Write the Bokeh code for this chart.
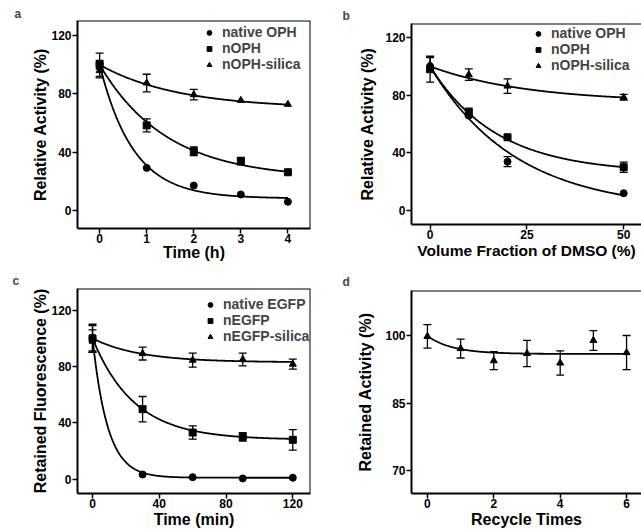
import numpy as np
from bokeh.plotting import figure
from bokeh.models import (ColumnDataSource, Whisker, TeeHead, FixedTicker, Span,
                          Range1d)
from bokeh.layouts import column, row
from bokeh.embed import file_html
from bokeh.resources import INLINE

FONT = "Liberation Sans"

# ---------------- data ----------------
# panel a: thermal stability (time, h)
a_time = [0, 1, 2, 3, 4]
a_native = [100, 29.4, 17.3, 11.2, 6.2]
a_native_err = [3, 0, 0, 0, 0]
a_noph = [100, 58.5, 40.8, 34.0, 26.4]
a_noph_err = [8, 4.5, 3.0, 2.5, 0]
a_silica = [96, 87.5, 79.5, 75.6, 72.9]
a_silica_err = [5, 6, 3.6, 0, 0]
a_fit_native = (100, 8.5, 1.4)      # (y0, plateau, k)
a_fit_noph = (100, 22, 0.7)
a_fit_silica = (100, 70, 0.6)
a_labels = ["native OPH", "nOPH", "nOPH-silica"]

# panel b: DMSO tolerance
b_dmso = [0, 10, 20, 50]
b_native = [100, 65.8, 33.9, 12.0]
b_native_err = [0, 0, 3.5, 0]
b_noph = [98, 68.0, 50.8, 30.0]
b_noph_err = [9, 3, 0, 3.5]
b_silica = [101, 94.2, 86.3, 78.5]
b_silica_err = [5, 4, 5, 2]
b_fit_native = (100, 0, 0.045)
b_fit_noph = (100, 26, 0.058)
b_fit_silica = (100, 75, 0.04)

# panel c: EGFP fluorescence (time, min)
c_time = [0, 30, 60, 90, 120]
c_native = [100, 3.3, 1.4, 0.5, 1.0]
c_native_err = [9, 0, 0, 0, 0]
c_negfp = [100, 49.7, 33.1, 30.0, 27.9]
c_negfp_err = [10, 9, 4.7, 3, 7.3]
c_silica = [98, 89.2, 84.5, 85.0, 81.7]
c_silica_err = [8, 4.6, 5, 4.5, 3.5]
c_fit_native = (100, 1, 0.11)
c_fit_negfp = (100, 28, 0.04)
c_fit_silica = (100, 83, 0.035)
c_labels = ["native EGFP", "nEGFP", "nEGFP-silica"]

# panel d: recycling
d_cycle = [0, 1, 2, 3, 4, 5, 6]
d_act = [99.9, 97.2, 94.5, 96.1, 94.0, 99.0, 96.3]
d_err = [2.6, 2.1, 2.0, 2.9, 2.7, 2.2, 3.8]
d_fit = (100, 96, 1.3)


def make_fig(w, h, bl, br, bt, bb, xr, yr, xticks, yticks, xlabel, ylabel,
             letter, letter_left, letter_standoff, box_right=True,
             xlabel_size="16px", xlab_standoff=0, ylab_standoff=-1):
    p = figure(width=w, height=h, x_range=Range1d(*xr), y_range=Range1d(*yr),
               output_backend="svg", toolbar_location=None,
               min_border_left=bl, min_border_right=br,
               min_border_top=bt, min_border_bottom=bb)
    p.frame_align = False
    p.grid.visible = False
    p.outline_line_color = None
    p.background_fill_color = "white"
    p.border_fill_color = "white"
    for ax in (p.xaxis, p.yaxis):
        ax.axis_line_width = 2
        ax.axis_line_color = "black"
        ax.major_tick_line_width = 1.5
        ax.major_tick_line_color = "black"
        ax.major_tick_out = 5
        ax.major_tick_in = 0
        ax.minor_tick_line_color = None
        ax.major_label_text_font = FONT
        ax.major_label_text_font_style = "bold"
        ax.major_label_text_font_size = "12px"
        ax.major_label_text_color = "black"
        ax.axis_label_text_font = FONT
        ax.axis_label_text_font_style = "bold"
        ax.axis_label_text_font_size = "16px"
        ax.axis_label_text_color = "black"
    p.xaxis.axis_label_text_font_size = xlabel_size
    p.xaxis.ticker = FixedTicker(ticks=xticks)
    p.yaxis.ticker = FixedTicker(ticks=yticks)
    p.xaxis.axis_label = xlabel
    p.yaxis.axis_label = ylabel
    p.xaxis.major_label_standoff = 0
    p.xaxis.axis_label_standoff = xlab_standoff
    p.yaxis.major_label_standoff = 1
    p.yaxis.axis_label_standoff = ylab_standoff
    p.add_layout(Span(location=yr[1], dimension="width", line_width=2,
                      line_color="black"))
    if box_right:
        p.add_layout(Span(location=xr[1], dimension="height", line_width=2,
                          line_color="black"))
    p.title.text = letter
    p.title.text_font = FONT
    p.title.text_font_style = "bold"
    p.title.text_font_size = "12px"
    p.title.align = "left"
    p.title.standoff = letter_standoff
    p.title.offset = -(bl - letter_left)
    return p


def add_series(p, x, y, err, fit, marker, label, xmax):
    xs = np.linspace(0, xmax, 300)
    y0, plat, k = fit
    p.line(xs, plat + (y0 - plat) * np.exp(-k * xs), line_color="black",
           line_width=1.8)
    xe = [xi for xi, e in zip(x, err) if e > 0]
    ye = [yi for yi, e in zip(y, err) if e > 0]
    ee = [e for e in err if e > 0]
    if xe:
        src = ColumnDataSource(dict(x=xe, upper=[a + b for a, b in zip(ye, ee)],
                                    lower=[a - b for a, b in zip(ye, ee)]))
        p.add_layout(Whisker(source=src, base="x", upper="upper", lower="lower",
                             line_width=1.3, line_color="black",
                             upper_head=TeeHead(size=8, line_width=1.3),
                             lower_head=TeeHead(size=8, line_width=1.3)))
    kw = dict(marker=marker, size=7, fill_color="black", line_color="black")
    if label:
        p.scatter(x, y, legend_label=label, **kw)
    else:
        p.scatter(x, y, **kw)


def style_legend(p, loc):
    lg = p.legend[0]
    lg.location = loc
    lg.margin = 0
    lg.padding = 0
    lg.spacing = 0
    lg.label_height = 13
    lg.glyph_height = 13
    lg.glyph_width = 12
    lg.label_standoff = 7
    lg.label_text_font = FONT
    lg.label_text_font_style = "bold"
    lg.label_text_font_size = "14px"
    lg.label_text_line_height = 0.9
    lg.border_line_color = None
    lg.background_fill_alpha = 0


# panel a
pa = make_fig(320, 265, 77, 10, 20, 37, (-0.47, 4.48), (-12.1, 130.3),
              [0, 1, 2, 3, 4], [0, 40, 80, 120], "Time (h)",
              "Relative Activity (%)", "a", 14, 0, xlab_standoff=-2)
add_series(pa, a_time, a_native, a_native_err, a_fit_native, "circle", a_labels[0], 4)
add_series(pa, a_time, a_noph, a_noph_err, a_fit_noph, "square", a_labels[1], 4)
add_series(pa, a_time, a_silica, a_silica_err, a_fit_silica, "triangle", a_labels[2], 4)
style_legend(pa, (126, 156))

# panel b
pb = make_fig(321, 265, 91, 0, 23, 41, (-4.8, 54.6), (-9.7, 129.7),
              [0, 25, 50], [0, 40, 80, 120], "Volume Fraction of DMSO (%)",
              "Relative Activity (%)", "b", 22, 2, box_right=False,
              xlabel_size="15.5px", ylab_standoff=6)
add_series(pb, b_dmso, b_native, b_native_err, b_fit_native, "circle", a_labels[0], 50)
add_series(pb, b_dmso, b_noph, b_noph_err, b_fit_noph, "square", a_labels[1], 50)
add_series(pb, b_dmso, b_silica, b_silica_err, b_fit_silica, "triangle", a_labels[2], 50)
style_legend(pb, (121, 151))

# panel c
pc = make_fig(320, 266, 77, 10, 23, 38, (-9.0, 130.6), (-10.2, 135.4),
              [0, 40, 80, 120], [0, 40, 80, 120], "Time (min)",
              "Retained Fluorescence (%)", "c", 12, 2)
add_series(pc, c_time, c_native, c_native_err, c_fit_native, "circle", c_labels[0], 120)
add_series(pc, c_time, c_negfp, c_negfp_err, c_fit_negfp, "square", c_labels[1], 120)
add_series(pc, c_time, c_silica, c_silica_err, c_fit_silica, "triangle", c_labels[2], 120)
style_legend(pc, (127, 149))

# panel d
pd_ = make_fig(321, 266, 91, 0, 25, 38, (-0.48, 6.45), (65.0, 110.1),
               [0, 2, 4, 6], [70, 85, 100], "Recycle Times",
               "Retained Activity (%)", "d", 22, 4, box_right=False,
               ylab_standoff=8)
add_series(pd_, d_cycle, d_act, d_err, d_fit, "triangle", None, 6)

layout = column(row(pa, pb), row(pc, pd_))

open("out.html", "w").write(file_html(layout, INLINE))
